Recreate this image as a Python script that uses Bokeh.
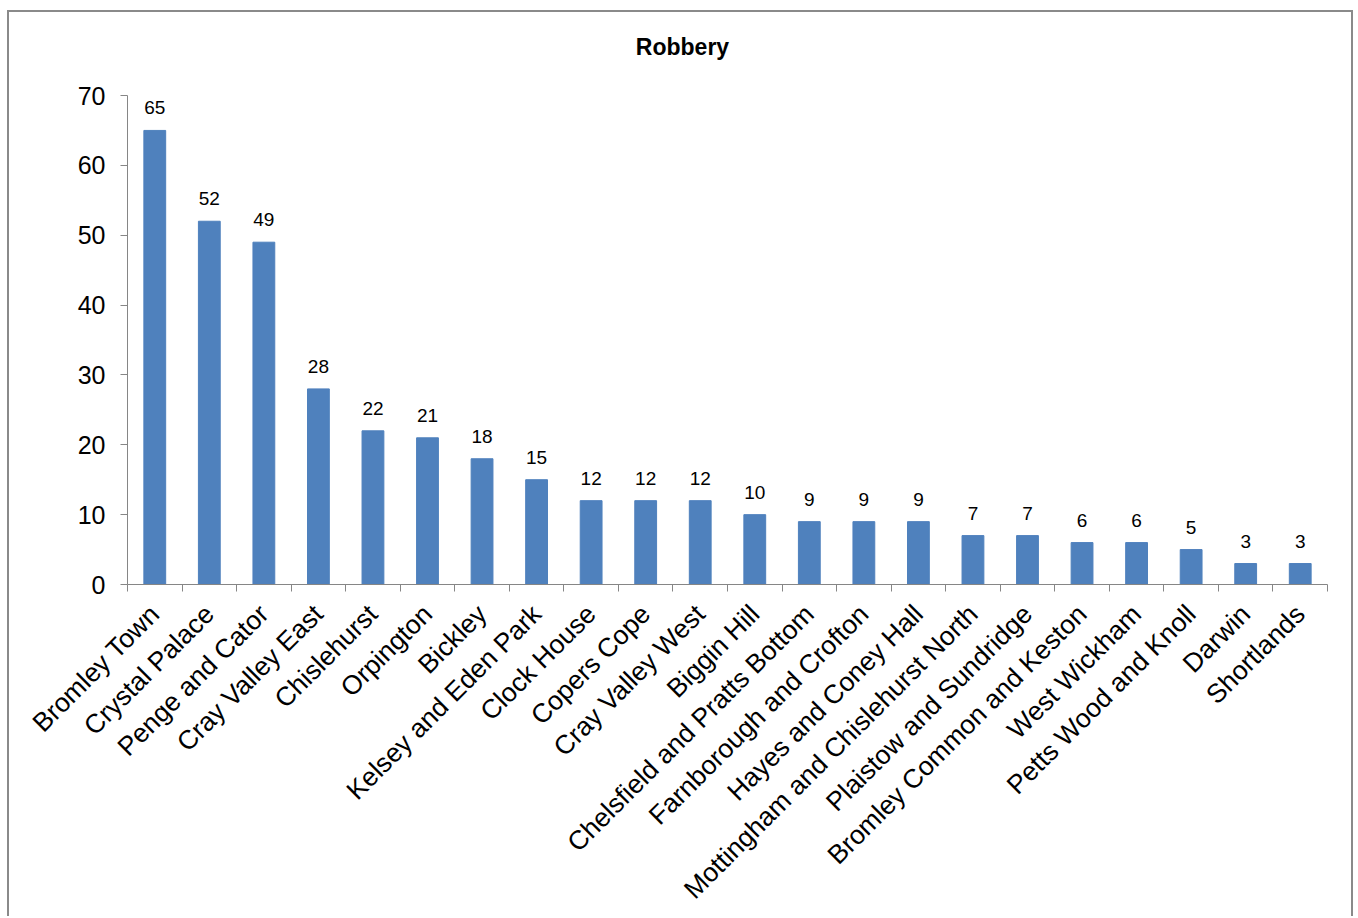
from math import pi

from bokeh.core.properties import value
from bokeh.embed import file_html
from bokeh.models import ColumnDataSource, FixedTicker, Label, LabelSet, LinearAxis, Range1d
from bokeh.plotting import figure
from bokeh.resources import INLINE

# Robbery counts per ward
wards = [
    "Bromley Town", "Crystal Palace", "Penge and Cator", "Cray Valley East",
    "Chislehurst", "Orpington", "Bickley", "Kelsey and Eden Park", "Clock House",
    "Copers Cope", "Cray Valley West", "Biggin Hill", "Chelsfield and Pratts Bottom",
    "Farnborough and Crofton", "Hayes and Coney Hall", "Mottingham and Chislehurst North",
    "Plaistow and Sundridge", "Bromley Common and Keston", "West Wickham",
    "Petts Wood and Knoll", "Darwin", "Shortlands",
]
robberies = [65, 52, 49, 28, 22, 21, 18, 15, 12, 12, 12, 10, 9, 9, 9, 7, 7, 6, 6, 5, 3, 3]
y_ticks = [0, 10, 20, 30, 40, 50, 60, 70]

FONT = "Liberation Sans"
AXIS_GREY = "#868686"
FRAME_GREY = "#8a8a8a"
BAR_BLUE = "#4F81BD"

n = len(wards)
centers = [i + 0.5 for i in range(n)]      # slot centres on the category axis
edges = list(range(n + 1))                  # slot boundaries

# Layout in pixels: the value axis spans 489 px; the plotting frame reaches
# 73 px higher so that the title can sit inside it.
AXIS_PX = 489
HEADROOM_PX = 73
FRAME_PX = AXIS_PX + HEADROOM_PX
y_max = y_ticks[-1]
units_per_px = y_max / AXIS_PX
slot_px = 1200 / n

src = ColumnDataSource(dict(x=centers, ward=wards, count=robberies,
                            label=[str(v) for v in robberies]))

p = figure(
    width=1346, height=906,
    x_range=Range1d(0, n),
    y_range=Range1d(0, y_max * FRAME_PX / AXIS_PX),
    output_backend="svg", toolbar_location=None, x_axis_location=None,
    min_border_left=118, min_border_right=28, min_border_top=10, min_border_bottom=334,
)
# grey frame around the whole chart (open at the bottom edge of the page)
p.styles = {
    "border-top": f"2px solid {FRAME_GREY}",
    "border-left": f"2px solid {FRAME_GREY}",
    "border-right": f"2px solid {FRAME_GREY}",
    "margin-left": "7px",
    "margin-top": "10px",
}
p.outline_line_color = None
p.xgrid.grid_line_color = None
p.ygrid.grid_line_color = None
p.background_fill_color = "white"
p.border_fill_color = "white"

# Chart title, centred over the whole chart area (45 px left of the frame centre)
title = Label(
    x=n / 2 - 45 / slot_px, y=y_max + 49 * units_per_px,
    text="Robbery", text_align="center", text_baseline="middle",
    text_font=FONT, text_font_size="23px", text_font_style="bold", text_color="black",
)
p.add_layout(title)

# Value axis
yax = p.yaxis[0]
yax.ticker = FixedTicker(ticks=y_ticks)
yax.bounds = (y_ticks[0], y_ticks[-1])
yax.major_label_text_font = FONT
yax.major_label_text_font_size = "25px"
yax.major_label_text_color = "black"
yax.major_tick_out = 7
yax.major_tick_in = 0
yax.minor_tick_line_color = None
yax.axis_line_color = AXIS_GREY
yax.major_tick_line_color = AXIS_GREY
yax.major_label_standoff = 15

# Category axis line with tick marks on the boundaries between wards
edge_axis = LinearAxis(
    ticker=FixedTicker(ticks=edges),
    major_label_overrides={t: "" for t in edges},
    major_label_standoff=0,
    major_label_text_font_size="1px",
    major_tick_out=7, major_tick_in=0,
    minor_tick_line_color=None,
    axis_line_color=AXIS_GREY,
    major_tick_line_color=AXIS_GREY,
)
p.add_layout(edge_axis, "below")

# Ward names, rotated, centred on each slot
name_axis = LinearAxis(
    ticker=FixedTicker(ticks=centers),
    major_label_overrides={c: w for c, w in zip(centers, wards)},
    axis_line_color=None,
    major_tick_line_color=None,
    minor_tick_line_color=None,
    major_label_orientation=pi / 4,
    major_label_text_font=FONT,
    major_label_text_font_size="26.5px",
    major_label_text_color="black",
    major_label_standoff=12,
)
p.add_layout(name_axis, "below")

p.vbar(x="x", top="count", width=0.4, source=src, fill_color=BAR_BLUE, line_color=BAR_BLUE)

labels = LabelSet(
    x="x", y="count", text="label", source=src,
    text_align="center", text_baseline="alphabetic", y_offset=16,
    text_font=value(FONT), text_font_size=value("19px"), text_color="black",
)
p.add_layout(labels)

open("out.html", "w").write(file_html(p, INLINE))
